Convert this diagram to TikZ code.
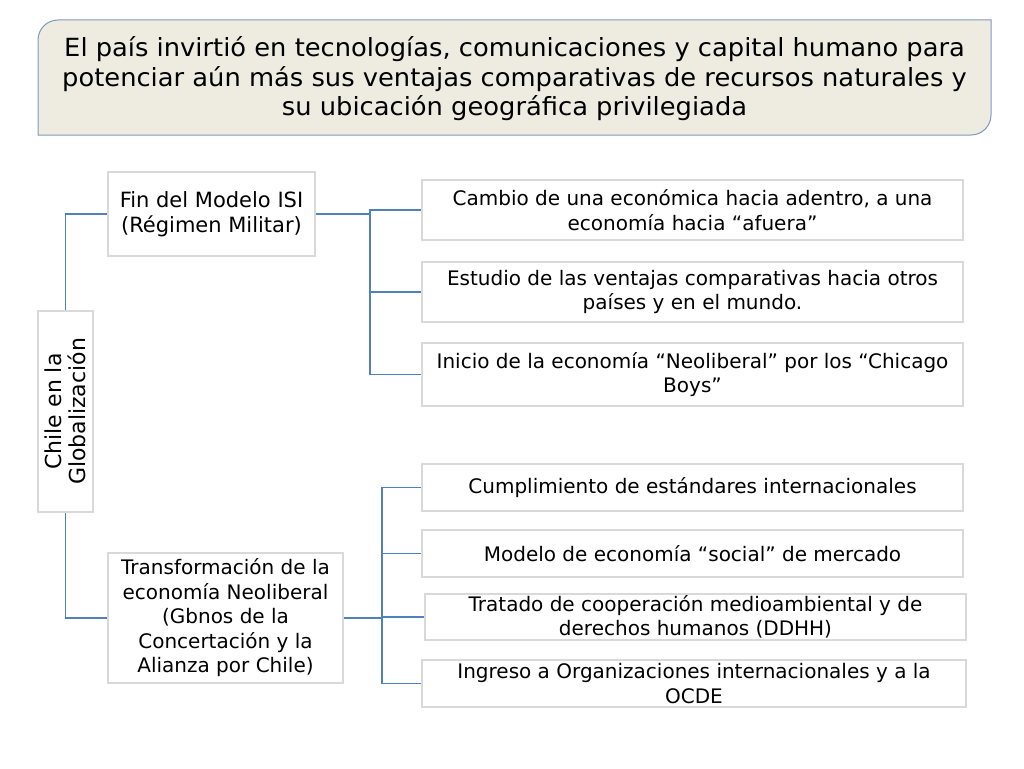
\documentclass[tikz,border=0pt]{standalone}
\usepackage{fontspec}
\setmainfont{DejaVu Sans}
\newfontfamily\titlefont[FakeStretch=1.03]{DejaVu Sans}
\definecolor{linkblue}{HTML}{4F81BD}
\definecolor{boxgray}{HTML}{D9D9D9}
\definecolor{titlefill}{HTML}{EEECE1}
\definecolor{titleedge}{HTML}{7F98BE}
\tikzset{
  itembox/.style={draw=boxgray, line width=2.6pt, fill=white, align=center,
    inner sep=1pt, font=\fontsize{20}{24.5}\selectfont, text=black},
  link/.style={draw=linkblue, line width=1.1pt},
}
\begin{document}
\begin{tikzpicture}[x=1pt,y=-1pt]
\useasboundingbox (0,0) rectangle (1024,768);
% title box with two rounded diagonal corners
\path[fill=titlefill, draw=titleedge, line width=1pt]
  (38,40) arc[start angle=180, end angle=270, radius=20] -- (991,20) -- (991,115)
  arc[start angle=0, end angle=90, radius=20] -- (38,135) -- cycle;
\node[align=center, font=\titlefont\fontsize{25}{29.5}\selectfont, text=black] (title) at (514.5,79)
  {El país invirtió en tecnologías, comunicaciones y capital humano para\\
   potenciar aún más sus ventajas comparativas de recursos naturales y\\
   su ubicación geográfica privilegiada};

\node[itembox, font=\fontsize{21}{25}\selectfont, minimum width=207pt, minimum height=84pt] (fin) at (211.5,214)
  {Fin del Modelo ISI\\(Régimen Militar)};
\node[itembox, font=\fontsize{22}{24.5}\selectfont, rotate=90, minimum width=201pt, minimum height=55pt] (chile) at (65.5,411.5)
  {Chile en la\\Globalización};
\node[itembox, minimum width=235pt, minimum height=130pt] (trans) at (225.5,618)
  {Transformación de la\\economía Neoliberal\\(Gbnos de la\\Concertación y la\\Alianza por Chile)};

\node[itembox, minimum width=541pt, minimum height=60pt] (c1) at (692.5,210)
  {Cambio de una económica hacia adentro, a una\\economía hacia “afuera”};
\node[itembox, minimum width=541pt, minimum height=60pt] (c2) at (692.5,292)
  {Estudio de las ventajas comparativas hacia otros\\países y en el mundo.};
\node[itembox, minimum width=541pt, minimum height=63pt] (c3) at (692.5,374.5)
  {Inicio de la economía “Neoliberal” por los “Chicago\\Boys”};

\node[itembox, minimum width=541pt, minimum height=47pt] (d1) at (692.5,487.5)
  {Cumplimiento de estándares internacionales};
\node[itembox, minimum width=541pt, minimum height=47pt] (d2) at (692.5,553.5)
  {Modelo de economía “social” de mercado};
\node[itembox, minimum width=541pt, minimum height=46pt] (d3) at (695.5,617)
  {Tratado de cooperación medioambiental y de\\derechos humanos (DDHH)};
\node[itembox, minimum width=544pt, minimum height=47pt] (d4) at (694,683.5)
  {Ingreso a Organizaciones internacionales y a la\\OCDE};

\coordinate (j1) at (370,214);
\coordinate (j2) at (382,618);

\draw[link] (chile.east) |- (fin.west);
\draw[link] (chile.west) |- (trans.west);
\draw[link] (fin.east) -- (j1);
\draw[link] (j1) |- (c1.west);
\draw[link] (j1) |- (c2.west);
\draw[link] (j1) |- (c3.west);
\draw[link] (trans.east) -- (j2);
\draw[link] (j2) |- (d1.west);
\draw[link] (j2) |- (d2.west);
\draw[link] (j2) |- (d3.west);
\draw[link] (j2) |- (d4.west);
\end{tikzpicture}
\end{document}
